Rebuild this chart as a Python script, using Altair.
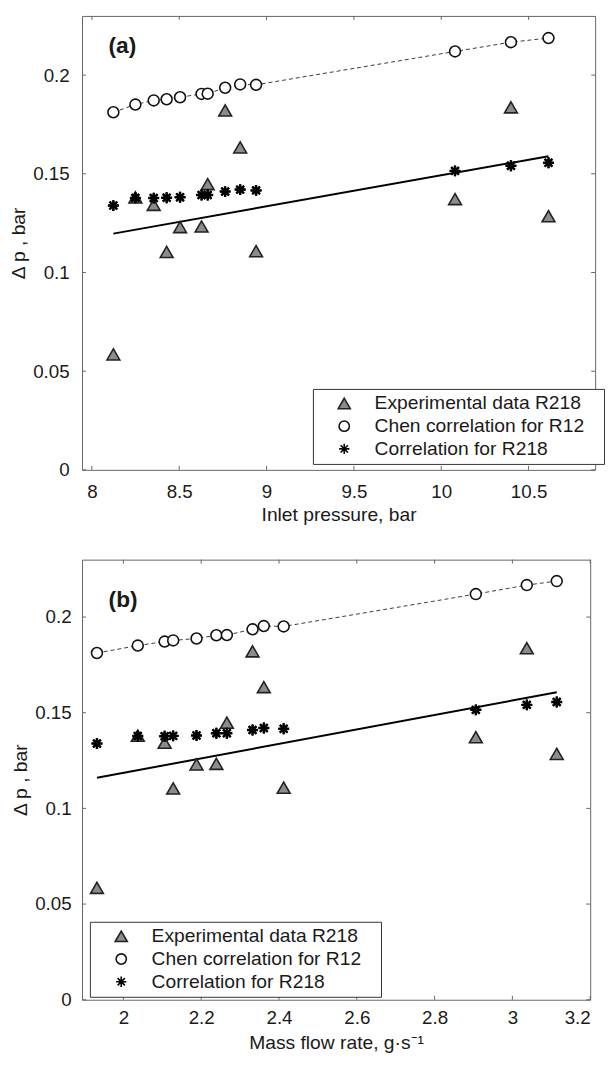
import altair as alt
import pandas as pd

FONT = "Liberation Sans"

series = ["Experimental data R218", "Chen correlation for R12", "Correlation for R218"]

p_in = [8.123, 8.249, 8.354, 8.428, 8.505, 8.628, 8.663, 8.763, 8.849, 8.940, 10.079, 10.399, 10.614]
m_dot = [1.932, 2.037, 2.106, 2.128, 2.188, 2.239, 2.266, 2.332, 2.361, 2.412, 2.906, 3.037, 3.114]

dp_exp = [0.0585, 0.1380, 0.1343, 0.1104, 0.1230, 0.1233, 0.1448, 0.1821, 0.1634, 0.1108, 0.1372, 0.1837, 0.1285]
dp_chen = [0.1812, 0.1851, 0.1872, 0.1878, 0.1888, 0.1905, 0.1906, 0.1936, 0.1953, 0.1951, 0.2120, 0.2167, 0.2188]
dp_corr = [0.1339, 0.1378, 0.1377, 0.1379, 0.1381, 0.1393, 0.1393, 0.1410, 0.1420, 0.1416, 0.1515, 0.1541, 0.1556]

fit_p_x = [8.123, 10.614]
fit_p_y = [0.1197, 0.1589]
fit_m_x = [1.932, 3.114]
fit_m_y = [0.1160, 0.1607]

y_ticks = [0, 0.05, 0.1, 0.15, 0.2]
p_ticks = [8, 8.5, 9, 9.5, 10, 10.5]
m_ticks = [2.0, 2.2, 2.4, 2.6, 2.8, 3.0, 3.2]

TRI = "triangle-up"
CIRC = "M0.85,0A0.85,0.85 0 1,1 -0.85,0A0.85,0.85 0 1,1 0.85,0Z"
AST = "M0,-0.85L0,0.85M-0.85,0L0.85,0M-0.6,-0.6L0.6,0.6M-0.6,0.6L0.6,-0.6"

TXT = "#1a1a1a"
FRAME = "#666666"
TL = 4  # inward tick length


def panel(xv, fx, fy, xdom, xticks, xfmt, xtitle, tag, tagx, tagy,
          legx, legy, w, h, ylp, xlp, xtp):
    n = len(xv)
    pts = pd.DataFrame({
        "x": list(xv) * 3,
        "y": dp_exp + dp_chen + dp_corr,
        "s": [s for s in series for _ in range(n)],
    })
    chen = pd.DataFrame({"x": xv, "y": dp_chen})
    corr = pd.DataFrame({"x": xv, "y": dp_corr})
    fit = pd.DataFrame({"x": fx, "y": fy})
    tagdf = pd.DataFrame({"x": [tagx], "y": [tagy], "t": [tag]})
    xtk = pd.DataFrame({"x": xticks})
    ytk = pd.DataFrame({"y": y_ticks})

    xs = alt.Scale(domain=xdom, nice=False, zero=False)
    ys = alt.Scale(domain=[0, 0.23], nice=False, zero=False)
    xb = alt.Axis(orient="bottom", values=xticks, format=xfmt, title=xtitle,
                  labelPadding=xlp, titlePadding=xtp, domain=False,
                  ticks=False, grid=False)
    yl = alt.Axis(orient="left", values=y_ticks, format=".2~f",
                  title="Δ p , bar", labelPadding=ylp, titlePadding=4,
                  domain=False, ticks=False, grid=False)
    X = alt.X("x:Q", scale=xs, axis=xb)
    Y = alt.Y("y:Q", scale=ys, axis=yl)

    rule_kw = dict(color=FRAME, strokeWidth=1)
    t_top = alt.Chart(xtk).mark_rule(**rule_kw).encode(x=X, y=alt.value(0), y2=alt.value(TL))
    t_bot = alt.Chart(xtk).mark_rule(**rule_kw).encode(x=X, y=alt.value(h - TL), y2=alt.value(h))
    t_left = alt.Chart(ytk).mark_rule(**rule_kw).encode(y=Y, x=alt.value(0), x2=alt.value(TL))
    t_right = alt.Chart(ytk).mark_rule(**rule_kw).encode(y=Y, x=alt.value(w - TL), x2=alt.value(w))

    dashed = alt.Chart(chen).mark_line(
        color="#3a3a3a", strokeWidth=1, strokeDash=[4, 3]
    ).encode(x=X, y=Y)
    fitline = alt.Chart(fit).mark_line(color="black", strokeWidth=2).encode(x=X, y=Y)
    leg = alt.Legend(
        title=None, orient="none", legendX=legx, legendY=legy,
        direction="vertical", strokeColor="#333333", fillColor="white",
        padding=5, symbolOffset=17, labelOffset=21, rowPadding=2,
        labelFont=FONT, labelFontSize=19.5, labelColor=TXT, labelLimit=400,
        symbolSize=150, symbolStrokeWidth=1.6,
        labelExpr="datum.label + '\u2800'",
    )
    pts_layer = alt.Chart(pts).mark_point(
        filled=True, opacity=1, size=169, strokeWidth=1.6
    ).encode(
        x=X, y=Y,
        shape=alt.Shape("s:N", scale=alt.Scale(domain=series, range=[TRI, CIRC, AST]), legend=leg),
        fill=alt.Fill("s:N", scale=alt.Scale(domain=series, range=["#8c8c8c", "white", "transparent"]), legend=leg),
        stroke=alt.Stroke("s:N", scale=alt.Scale(domain=series, range=["#222222", "#111111", "#000000"]), legend=leg),
    )
    stars = alt.Chart(corr).mark_point(
        shape=AST, size=169, strokeWidth=2.5, stroke="black", fill="transparent", opacity=1
    ).encode(x=X, y=Y)
    tag_layer = alt.Chart(tagdf).mark_text(
        align="left", baseline="alphabetic", font=FONT, fontSize=23,
        fontWeight="bold", color=TXT
    ).encode(x=X, y=Y, text="t:N")
    return alt.layer(t_top, t_bot, t_left, t_right, dashed, fitline,
                     pts_layer, stars, tag_layer).properties(width=w, height=h)


panel_a = panel(p_in, fit_p_x, fit_p_y, [7.9435, 10.881], p_ticks, ".1~f",
                "Inlet pressure, bar", "(a)", 8.095, 0.2114,
                234, 378, 520, 460, 13, 13, 4)
panel_b = panel(m_dot, fit_m_x, fit_m_y, [1.8936, 3.2], m_ticks, ".1~f",
                "Mass flow rate, g·s⁻¹", "(b)", 1.962, 0.205,
                8, 367, 515, 446, 11, 9, 6)

chart = alt.vconcat(panel_a, panel_b, spacing=35).resolve_scale(
    shape="independent", fill="independent", stroke="independent"
).resolve_legend(
    shape="independent", fill="independent", stroke="independent"
).configure_view(
    stroke=FRAME, strokeWidth=1
).configure_axis(
    labelFont=FONT, titleFont=FONT, labelFontSize=19, titleFontSize=19.5,
    labelColor=TXT, titleColor=TXT, titleFontWeight="normal"
).properties(
    padding={"left": 0, "top": 0, "right": 0, "bottom": 0},
    background="white",
)

chart.save("out.html", embed_options={"renderer": "svg", "actions": False})
